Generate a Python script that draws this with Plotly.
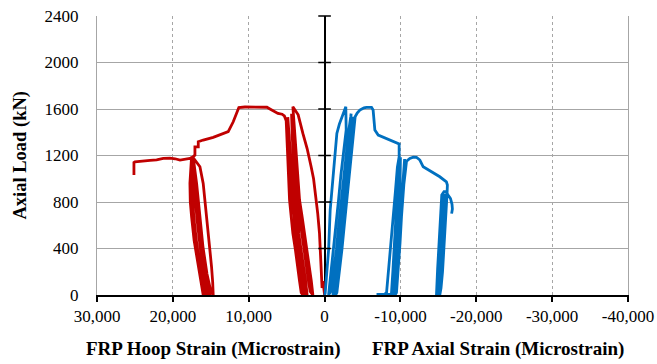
import plotly.graph_objects as go

# Y axis ticks (kN) and X axis ticks (microstrain)
load_ticks = [0, 400, 800, 1200, 1600, 2000, 2400]
strain_ticks = [30000, 20000, 10000, 0, -10000, -20000, -30000, -40000]
strain_labels = ["30,000", "20,000", "10,000", "0", "-10,000", "-20,000", "-30,000", "-40,000"]

# FRP hoop strain (positive, plotted on the left half) vs axial load
hoop_strain = [
    # first loading
    0, 200, 330, 450, 670, 900, 1110, 1450, 1770, 2300, 2860, 3480, 4180,
    # cycles, first group
    4000, 3960, 3650, 3300, 2950, 2640, 2300, 1980, 1750, 1540,
    1900, 2120, 2350, 2700, 3000, 3330, 3630, 3950, 4230, 4350,
    4250, 4050, 3850, 3650, 3400, 3100, 2750, 2500, 2300,
    2700, 2900, 3150, 3480, 3800, 4050, 4300, 4530, 4780, 4850,
    4600, 4400, 4150, 3900, 3600, 3300, 3000, 2750, 2600,
    2800, 3050, 3350, 3650, 3950, 4200, 4450, 4680, 4900, 4950,
    4750, 4500, 4250, 3980, 3700, 3420, 3150, 2950, 2850,
    3080, 3300, 3520, 3850, 4180, 4400, 4620, 4800, 5000, 5060, 5300,
    # plateau and softening
    5600, 6150, 6800, 7200, 7600, 8500, 9500, 10500, 11300, 11600, 12040, 12700,
    13800, 14680, 16000, 16650, 16650, 17090, 17090, 17310,
    # cycles, second group
    17300, 16870, 16430, 16100, 15770, 15400, 15110,
    15400, 15700, 16100, 16500, 16850, 17150, 17350,
    17450, 17450, 17250, 16900, 16450, 16050, 15700,
    16000, 16300, 16650, 17200, 17530, 17700, 17750, 17530,
    17200, 16430, 16000, 15550, 15200, 14900, 14750, 14680,
    15050, 15500, 16000, 16500, 17000, 17400, 17600,
    # final branch
    17750, 18500, 19060, 19700, 20380, 21260, 22140, 23000, 23900, 25000, 25130, 25130,
]
hoop_load = [
    0, 120, 60, 243, 530, 700, 817, 1000, 1103, 1260, 1390, 1550, 1620,
    1450, 1390, 1100, 817, 670, 530, 390, 243, 120, 0,
    30, 120, 243, 390, 530, 670, 817, 1100, 1420, 1560,
    1350, 1100, 900, 700, 530, 390, 243, 120, 0,
    30, 120, 243, 390, 530, 670, 817, 1100, 1480, 1530,
    1300, 1050, 817, 640, 480, 330, 200, 80, 0,
    40, 160, 330, 520, 720, 920, 1150, 1380, 1500, 1520,
    1300, 1060, 850, 640, 450, 280, 130, 40, 0,
    20, 120, 243, 390, 530, 670, 817, 1100, 1390, 1500, 1540,
    1555, 1562, 1590, 1600, 1615, 1617, 1617, 1617, 1612, 1562, 1490, 1405,
    1376, 1356, 1333, 1318, 1275, 1275, 1204, 1190,
    1175, 960, 673, 470, 243, 110, 0,
    0, 110, 243, 470, 673, 960, 1180,
    1185, 960, 673, 470, 243, 110, 0,
    0, 110, 243, 470, 673, 800, 960, 1190,
    1170, 1103, 960, 673, 470, 243, 110, 0,
    50, 180, 400, 673, 900, 1100, 1175,
    1175, 1165, 1161, 1172, 1178, 1175, 1163, 1158, 1155, 1146, 1140, 1032,
]

# FRP axial strain (negative, plotted on the right half) vs axial load
axial_strain = [
    # first loading
    0, -80, -300, -530, -740, -950, -1190, -1620, -1950, -2280, -2550, -2800,
    # cycles, first group
    -2850, -2500, -2150, -1840, -1500, -1190, -850, -530,
    -900, -1220, -1550, -1870, -2200, -2520, -2860, -3200, -3450, -3500,
    -3350, -3050, -2700, -2400, -2050, -1750, -1400, -1100,
    -1250, -1600, -1920, -2250, -2580, -2900, -3230, -3550, -3750,
    -3700, -3420, -3100, -2760, -2420, -2100, -1780, -1450,
    -1620, -1950, -2280, -2600, -2940, -3270, -3600, -3850, -4030, -4300,
    # plateau and softening
    -4650, -4910, -5200, -5530, -6190, -6400, -6550, -6630, -7070, -8170,
    -9700, -9830, -9830,
    # cycles, second group
    -9600, -9350, -9050, -8750, -8450, -8170, -7900, -7300, -6850, -7500, -8200, -8810,
    -9000, -9200, -9400, -9650, -9920, -10000,
    -9950, -9700, -9450, -9250, -9050,
    -9300, -9500, -9700, -9950, -10250, -10550,
    -10400, -10150, -9900, -9650, -9400, -9300,
    -9480, -9700, -9950, -10140, -10450, -10800,
    # softening branch
    -11240, -11700, -12120, -12400, -12560, -13000, -14090, -15190, -16060,
    -16190, -16150,
    # cycles, third group
    -16000, -15800, -15550, -15350, -15190,
    -15250, -15400, -15600, -15800, -15900,
    -15700, -15500, -15250, -15050, -14900,
    -15000, -15200, -15450, -15650,
    -15450, -15200, -14950, -14750,
    -14900, -15100, -15300, -15450, -15750,
    -16000, -16280, -16600, -16800, -16850, -16750,
]
axial_load = [
    0, 15, 200, 387, 731, 900, 1103, 1390, 1470, 1533, 1580, 1619,
    1420, 1247, 1030, 817, 600, 387, 190, 0,
    40, 190, 387, 600, 817, 1030, 1247, 1420, 1533, 1560,
    1420, 1247, 1030, 817, 600, 387, 190, 0,
    20, 190, 387, 600, 817, 1030, 1247, 1420, 1533,
    1420, 1247, 1030, 817, 600, 387, 190, 0,
    20, 190, 387, 600, 817, 1030, 1247, 1420, 1533, 1565,
    1591, 1600, 1610, 1614, 1614, 1591, 1500, 1419, 1376, 1347,
    1310, 1300, 1189,
    1100, 900, 673, 430, 200, 20, 5, 5, 5, 5, 5, 5,
    200, 450, 673, 950, 1170, 1185,
    950, 673, 450, 200, 0,
    20, 200, 450, 673, 950, 1170,
    1000, 750, 500, 250, 60, 0,
    20, 200, 450, 673, 950, 1150,
    1175, 1185, 1184, 1170, 1161, 1103, 1060, 1017, 974,
    946, 875,
    700, 450, 200, 60, 0,
    150, 350, 600, 800, 870,
    650, 420, 180, 0, 0,
    200, 450, 700, 870,
    620, 350, 120, 0,
    220, 480, 700, 860, 890,
    890, 860, 830, 780, 740, 700,
]

RED = "#C00000"
BLUE = "#0070C0"
SERIF = "Liberation Serif"
GRID = "#A6A6A6"

fig = go.Figure()

fig.add_trace(go.Scatter(
    x=hoop_strain, y=hoop_load, mode="lines",
    line=dict(color=RED, width=2.8), name="Hoop", showlegend=False,
))
fig.add_trace(go.Scatter(
    x=axial_strain, y=axial_load, mode="lines",
    line=dict(color=BLUE, width=2.8), name="Axial", showlegend=False,
))

# Cross ticks on the vertical axis line at zero strain
fig.add_trace(go.Scatter(
    x=[0] * (len(load_ticks) - 1), y=load_ticks[1:], mode="markers",
    marker=dict(symbol="line-ew", size=9, line=dict(color="black", width=1.5)),
    hoverinfo="skip", showlegend=False, cliponaxis=False,
))

fig.update_layout(
    width=657, height=364,
    margin=dict(l=97, r=29, t=16, b=69),
    paper_bgcolor="white", plot_bgcolor="white",
    font=dict(family=SERIF, size=17, color="black"),
    xaxis=dict(
        range=[30000, -40000], automargin=False,
        tickvals=strain_ticks, ticktext=strain_labels,
        showgrid=True, gridcolor=GRID, gridwidth=1, griddash="dot",
        zeroline=True, zerolinecolor="black", zerolinewidth=2,
        showline=True, linecolor="black", linewidth=2,
        ticks="outside", ticklen=5, tickwidth=1.5, tickcolor="black",
        tickfont=dict(family=SERIF, size=17, color="black"),
    ),
    yaxis=dict(
        range=[0, 2400], automargin=False,
        tickvals=load_ticks,
        showgrid=True, gridcolor=GRID, gridwidth=1,
        zeroline=False,
        showline=True, linecolor=GRID, linewidth=1, mirror=True,
        ticks="", ticklabelstandoff=14,
        tickfont=dict(family=SERIF, size=17, color="black"),
    ),
    annotations=[
        dict(text="<b>Axial Load (kN)</b>", xref="paper", yref="paper",
             x=-0.145, y=0.5, xanchor="center", yanchor="middle",
             textangle=-90, showarrow=False,
             font=dict(family=SERIF, size=18.5, color="black")),
        dict(text="<b>FRP Hoop Strain (Microstrain)</b>", xref="paper", yref="paper",
             x=0.2185, y=-0.1935, xanchor="center", yanchor="middle",
             showarrow=False, font=dict(family=SERIF, size=19, color="black")),
        dict(text="<b>FRP Axial Strain (Microstrain)</b>", xref="paper", yref="paper",
             x=0.755, y=-0.1935, xanchor="center", yanchor="middle",
             showarrow=False, font=dict(family=SERIF, size=19, color="black")),
    ],
)

fig.write_html("out.html")
